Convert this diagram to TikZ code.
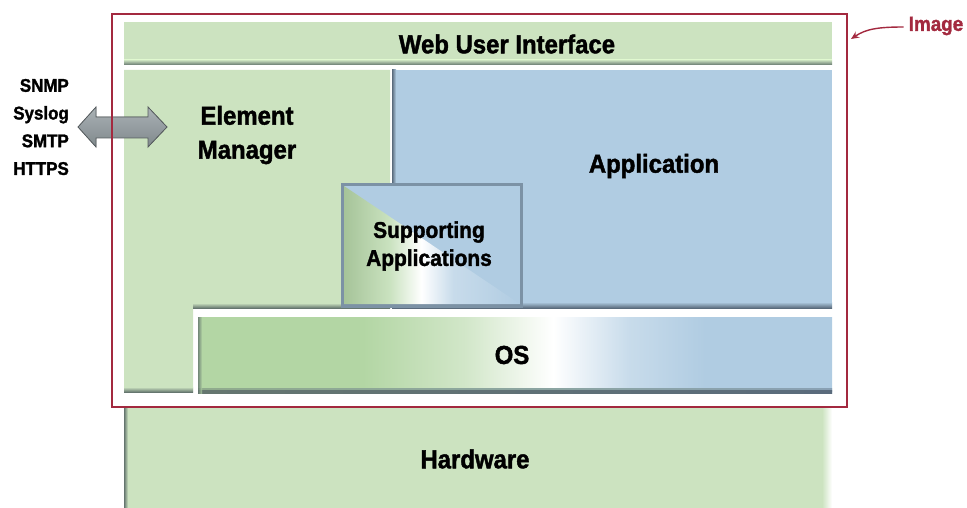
\documentclass[tikz,border=0pt]{standalone}
\usepackage{fontspec}
\setmainfont{Liberation Sans}[BoldFeatures={FakeBold=1.6, FakeStretch=0.92}]
\usetikzlibrary{arrows.meta}
\definecolor{gr}{HTML}{CCE3C0}
\definecolor{grd}{HTML}{B3D6A4}
\definecolor{bl}{HTML}{B0CCE2}
\definecolor{edgec}{HTML}{65766F}
\definecolor{edgeb}{HTML}{5A6B7C}
\definecolor{framec}{HTML}{A3293F}
\definecolor{arrc}{HTML}{8E989C}
\pgfdeclarehorizontalshading{osshade}{100bp}{color(0bp)=(grd); color(25bp)=(grd); color(38bp)=(grd); color(46bp)=(grd!60!white); color(53bp)=(white); color(59bp)=(bl!70!white); color(65bp)=(bl); color(100bp)=(bl)}
\pgfdeclarehorizontalshading{supshade}{100bp}{color(0bp)=(grd); color(25bp)=(grd!90!black!95); color(38bp)=(grd!70!white); color(47bp)=(white); color(56bp)=(bl!70!white); color(75bp)=(bl); color(100bp)=(bl)}
\tikzset{
  lbl/.style={font=\bfseries\fontsize{26}{34}\selectfont, text=black, align=center, inner sep=0pt},
  small/.style={font=\bfseries\fontsize{18.4}{27.7}\selectfont, text=black, align=right, inner sep=0pt},
  botedge/.style={top color=#1, bottom color=edgec},
  botedgeb/.style={top color=#1, bottom color=edgeb},
}
\begin{document}
\begin{tikzpicture}[x=1pt,y=-1pt]
\useasboundingbox (0,0) rectangle (967,508);
% Hardware
\fill[gr] (124,407) rectangle (832,508);
\shade[left color=edgec, right color=gr] (124,407) rectangle (128,508);
\shade[left color=gr, right color=white] (822,407) rectangle (832,508);
% Web UI
\fill[gr] (124,22) rectangle (832,65);
\shade[botedge=gr] (124,60) rectangle (832,65);
% Element manager L-shape
\fill[gr] (124,70) -- (390,70) -- (390,308) -- (193,308) -- (193,392) -- (124,392) -- cycle;
\shade[botedge=gr] (193,303) rectangle (390,308);
\shade[botedge=gr] (124,387) rectangle (193,392);
% Application
\fill[bl] (392,70) rectangle (832,308);
\shade[left color=edgeb, right color=bl] (392,70) rectangle (396,308);
\shade[botedgeb=bl] (392,302) rectangle (832,308);
% Supporting applications
\fill[edgeb!60!bl] (341,183) rectangle (523,308);
\fill[bl] (344,186) rectangle (520,304);
\shade[shading=supshade, shading angle=0] (344,186) -- (344,304) -- (520,304) -- cycle;
% OS
\shade[shading=osshade] (198,317) rectangle (832,393);
\shade[left color=edgec!45!grd, right color=edgeb!45!bl] (198,388) rectangle (832,391);
\shade[left color=edgec, right color=edgeb] (198,390.5) rectangle (832,393);
\shade[left color=edgec, right color=grd, opacity=0.8] (198,317) rectangle (202,393);
% protocol arrow
\filldraw[draw=arrc!60!black, line width=0.8pt, top color=arrc!75!white, bottom color=arrc!90!black]
  (78,127) -- (96,107) -- (96,117) -- (148,117) -- (148,107) -- (167,127)
  -- (148,147) -- (148,138) -- (96,138) -- (96,147) -- cycle;
% red frame
\draw[framec, line width=1.6pt] (112,14) rectangle (847,407);
% labels
\node[lbl] (wui) at (507,44) {Web User Interface};
\node[lbl] (em) at (247,135) {Element\\Manager};
\node[lbl] (app) at (654,166) {Application};
\node[lbl, font=\bfseries\fontsize{22.75}{28}\selectfont] (sup) at (429,246) {Supporting\\Applications};
\node[lbl] (os) at (512,355) {OS};
\node[lbl] (hw) at (475,459) {Hardware};
\node[small, anchor=east] (prot) at (69,127) {SNMP\\Syslog\\SMTP\\HTTPS};
\node[lbl, text=framec, font=\bfseries\fontsize{20.5}{22}\selectfont] (img) at (936,26) {Image};
\coordinate (imgtip) at (851,39);
\draw[framec, line width=1.4pt, -{Stealth[length=8pt,width=7pt]}] (img.west) ++(-5,1) .. controls (878,27) and (866,29) .. (imgtip);
\end{tikzpicture}
\end{document}
